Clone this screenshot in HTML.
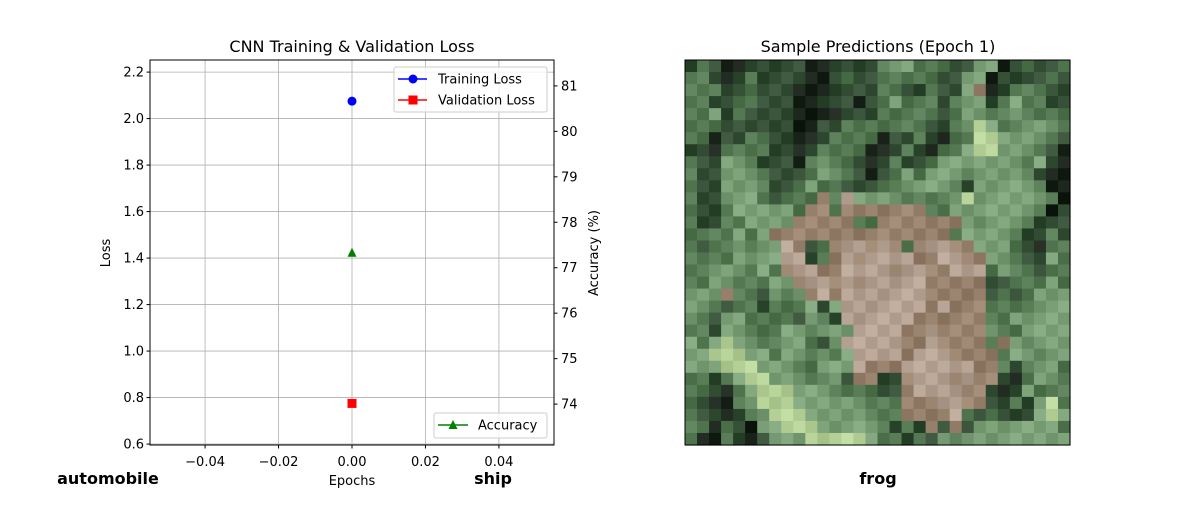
<!DOCTYPE html>
<html><head><meta charset="utf-8"><style>
body{margin:0;background:#fff;}
svg text{font-family:"DejaVu Sans","Liberation Sans",sans-serif;fill:#000;}
</style></head><body>
<svg id="chart" width="1200" height="500" viewBox="0 0 1200 500" xmlns="http://www.w3.org/2000/svg">
<rect width="1200" height="500" fill="#fff"/>
<g id="grid"></g>
<g id="axes"></g>
<g id="marks"></g>
<text x="352" y="52" font-size="16" text-anchor="middle">CNN Training &amp; Validation Loss</text>
<text x="352" y="485" font-size="13" text-anchor="middle">Epochs</text>
<text transform="translate(110,253) rotate(-90)" font-size="13" text-anchor="middle">Loss</text>
<text transform="translate(598,253) rotate(-90)" font-size="13" text-anchor="middle">Accuracy (%)</text>
<g>
<rect x="394" y="67" width="153" height="45" rx="2" fill="#fff" fill-opacity="0.8" stroke="#ccc"/>
<g><line x1="398" y1="79" x2="427" y2="79" stroke="#00f" stroke-width="1.5"/><circle cx="413" cy="79" r="4.5" fill="#00f"/><text x="438" y="83.5" font-size="13">Training Loss</text></g>
<g><line x1="398" y1="100" x2="427" y2="100" stroke="#f00" stroke-width="1.5"/><rect x="408.5" y="95.5" width="9" height="9" fill="#f00"/><text x="438" y="104.5" font-size="13">Validation Loss</text></g>
</g>
<g>
<rect x="434" y="413" width="113" height="25" rx="2" fill="#fff" fill-opacity="0.8" stroke="#ccc"/>
<g><line x1="438" y1="425" x2="468" y2="425" stroke="green" stroke-width="1.5"/><polygon points="453,420 457.5,429 448.5,429" fill="green"/><text x="478" y="429.5" font-size="13">Accuracy</text></g>
</g>
<text x="685" y="52" dx="193" font-size="16" text-anchor="middle">Sample Predictions (Epoch 1)</text>
<g id="img"></g>
<rect x="685" y="60" width="385" height="385" fill="none" stroke="#000"/>
<text x="108" y="484" font-size="16" font-weight="bold" text-anchor="middle">automobile</text>
<text x="493" y="484" font-size="16" font-weight="bold" text-anchor="middle">ship</text>
<text x="878" y="484" font-size="16" font-weight="bold" text-anchor="middle">frog</text>
</svg>
<script>
const epochs=[0];
const trainLoss=[2.075];
const valLoss=[0.775];
const accuracy=[77.33];
const xTicks=[-0.04,-0.02,0,0.02,0.04];
const xTickLabels=["−0.04","−0.02","0.00","0.02","0.04"];
const yTicks=[0.6,0.8,1.0,1.2,1.4,1.6,1.8,2.0,2.2];
const y2Ticks=[74,75,76,77,78,79,80,81];

const L=150,R=554,T=60,B=445;
const xDom=[-0.055,0.055],yDom=[0.596,2.252],y2Dom=[73.1,81.57];
const sx=v=>L+(v-xDom[0])/(xDom[1]-xDom[0])*(R-L);
const sy=v=>B-(v-yDom[0])/(yDom[1]-yDom[0])*(B-T);
const sy2=v=>B-(v-y2Dom[0])/(y2Dom[1]-y2Dom[0])*(B-T);
const NS="http://www.w3.org/2000/svg";
function mk(tag,attrs,parent,txt){const e=document.createElementNS(NS,tag);for(const k in attrs)e.setAttribute(k,attrs[k]);if(txt!==undefined)e.textContent=txt;parent.appendChild(e);return e;}
const grid=document.getElementById('grid'),axes=document.getElementById('axes'),marks=document.getElementById('marks');
xTicks.forEach((v,i)=>{const x=sx(v);
 const g=mk('line',{x1:x,x2:x,y1:T,y2:B,stroke:'#b0b0b0','stroke-width':0.8},grid);
 
 
 mk('line',{x1:x,x2:x,y1:B,y2:B+3.5,stroke:'#000'},axes);
 const t=mk('text',{x:x,y:B+21,'font-size':13,'text-anchor':'middle'},axes,xTickLabels[i]);
 
 
});
yTicks.forEach(v=>{const y=sy(v);
 const g=mk('line',{x1:L,x2:R,y1:y,y2:y,stroke:'#b0b0b0','stroke-width':0.8},grid);
 
 
 mk('line',{x1:L-3.5,x2:L,y1:y,y2:y,stroke:'#000'},axes);
 const t=mk('text',{x:L-6,y:y+4.5,'font-size':13,'text-anchor':'end'},axes,v.toFixed(1));
 
 
});
y2Ticks.forEach(v=>{const y=sy2(v);
 mk('line',{x1:R,x2:R+3.5,y1:y,y2:y,stroke:'#000'},axes);
 const t=mk('text',{x:R+7,y:y+4.5,'font-size':13},axes,String(v));
 
 
});
mk('rect',{x:L,y:T,width:R-L,height:B-T,fill:'none',stroke:'#000'},axes);
epochs.forEach((e,i)=>{const x=sx(e);
 const c=mk('circle',{cx:x,cy:sy(trainLoss[i]),r:4.5,fill:'#00f'},marks);
 
 
 const y=sy(valLoss[i]);
 const s=mk('rect',{x:x-4.5,y:y-4.5,width:9,height:9,fill:'#f00'},marks);
 
 
 const ya=sy2(accuracy[i]);
 const p=mk('polygon',{points:`${x},${ya-5} ${x+4.5},${ya+4} ${x-4.5},${ya+4}`,fill:'green'},marks);
 
 
});
// image
const rows=["DGDKKDDDDDKKDDDDGLLGGGDDLLKDGDDG","GGDKDGDDDDKKDGDDGGGGGDDLLKDDDDGD","GGGDDGDDDKKKDDDDGGDDGDDLBKDGGGDD","GGDDGGDDDKKDDDKDGLGGGDGLLDGLGGDD","GGLDGDDDDKKKKDDDGGGGGDGLLGGLGGGG","GGGDDDDDDKKDDGGGGGGGDDGLPLGGLLLG","GGKDDGGDDKKDGGGGKDDGDKGGPPLLLLGD","DDKGGGGDDKDGGGGKKDGDKGGLPPLLLGDK","GDDLLGDDDKGLGGDKDGDDGLLLLLLLGLDK","GDDLLLGDDDGLLGDKDGLGLLLGLLLLGDKK","GDDLLLGDDGLGGDDDGGLLLLGDLLLLLGKK","GDDLLLGDGGGBGTLLLLGGGGLPLLLLLLGK","GDDGLLLLLGBBGBBBBBBBGGLLLLLLLGKD","GDDGGLLLLBBBBBGGBBBBBBBLGLLLGDDD","GGGGLGLBBBBBBBBBBBBBBBGLLLLGDDGD","GDGGLGLLTBDGBTTBTBGBTTBBLLLGDKGG","GGGGLLLLTTDGBTBTTTTBBTTBBLLGDDLG","GGLLLGLGBTTBBTTTTBTTBBTTTGLGGDGG","GGLLGGGLLBTTBTBTTTTTBBBBBDDGGGLG","LLLBGGDLGLBTBTTTTTTTBBBBBDGDGLLL","LLGDGGDGGGLDLTTTTTTTBTBBBGGGGLLL","LGDLLGGGGDLGDTTTTTTBBBBBBGGLLLLL","GGDLLGGGLLGLLLTTTTBBTBBBBLGGLLLL","LGLPLLGGLLGDLTTTTTBBTBBBBGBLGLLL","LLPPPLLGLLGLGLTTTTBTTTBBBBGLLGLL","LLLPPPLLLGGLLLTBBBTTTTTTBBGDGLLG","GGDGLPPLLLGGLDBBDDBTTTBTBBDKGLLG","GGDKGLPPPLLLGGGGDDBTTTTBBDKDLGGG","GDKKGLPPPLLLLLLGGGBBBTTBBDDGDLPG","GDDKDGLPPPLLLLLGGGBBBBTGDGDDDLPL","GGKGDKLLPPPLLLLLGDGDBDBDLLLLLLLG","GKKGDKDLLLPPPPPLGGDGDLGLLLLLLLLL"];
const pal={D:[50,76,52],G:[84,120,82],L:[122,158,118],P:[180,208,150],B:[150,128,108],T:[180,160,145],K:[24,34,24]};
const img=document.getElementById('img');const cs=385/32;
rows.forEach((r,i)=>{for(let j=0;j<32;j++){const c=pal[r[j]||'G'];const h=((i*31+j*17)%7-3)*5;
 mk('rect',{x:(685+j*cs).toFixed(2),y:(60+i*cs).toFixed(2),width:(cs+0.6).toFixed(2),height:(cs+0.6).toFixed(2),fill:`rgb(${c[0]+h},${c[1]+h},${c[2]+h})`},img);}});
</script>
</body></html>
